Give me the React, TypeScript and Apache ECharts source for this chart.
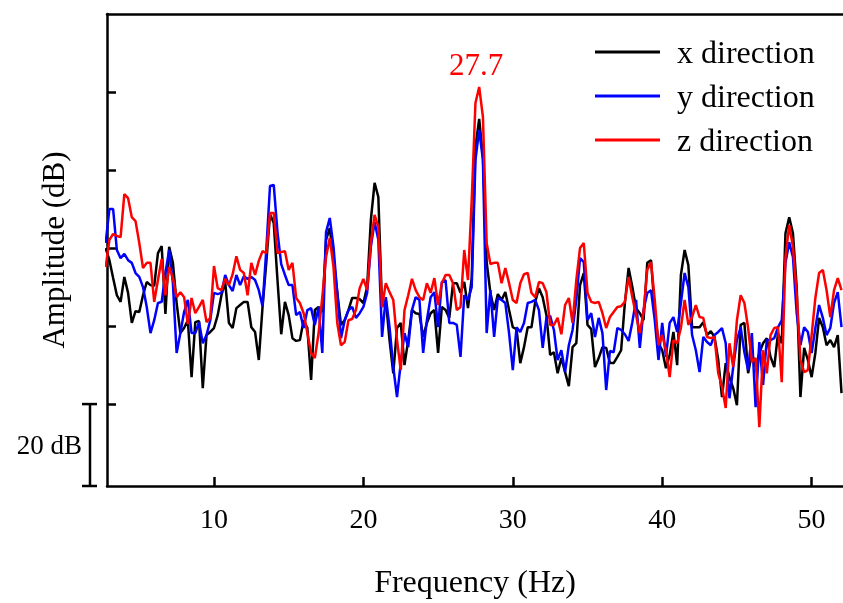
import React, { useEffect, useRef } from "react";
import * as echarts from "echarts";

// Frequency grid of the spectra (Hz)
const F_START = 2.75;
const F_STEP = 0.25;

// Amplitude (dB) per direction, one value per frequency bin
const xDirection = [
  -60.0, -63.1, -67.7, -72.1, -73.8, -67.4, -71.5, -79.2, -76.2, -76.4,
  -72.1, -68.7, -69.5, -69.7, -61.3, -59.5, -76.9, -59.7, -63.8, -74.1,
  -81.8, -80.5, -78.5, -93.1, -79.0, -78.7, -95.9, -82.3, -81.5, -80.5,
  -77.2, -72.1, -68.7, -79.2, -80.5, -75.4, -74.6, -73.8, -73.8, -80.3,
  -81.5, -88.7, -75.1, -63.8, -51.3, -53.6, -68.2, -82.1, -73.8, -77.2,
  -83.1, -83.8, -83.6, -78.5, -80.5, -93.8, -75.9, -75.1, -76.4, -57.9,
  -54.9, -62.6, -71.3, -79.7, -78.5, -75.9, -72.8, -72.8, -73.1, -74.1,
  -70.0, -52.8, -43.3, -46.9, -75.1, -73.3, -83.6, -92.1, -80.5, -79.2,
  -90.0, -83.6, -75.9, -76.7, -76.9, -82.8, -79.2, -76.7, -75.9, -86.9,
  -75.1, -75.9, -77.9, -69.0, -69.0, -71.5, -68.7, -75.4, -67.7, -34.1,
  -26.9, -36.7, -63.6, -71.5, -75.9, -71.8, -73.3, -71.3, -75.9, -80.3,
  -80.8, -89.5, -85.4, -80.3, -80.3, -73.8, -70.3, -72.6, -77.2, -87.4,
  -86.7, -92.1, -88.2, -91.8, -95.4, -85.4, -84.4, -69.5, -66.4, -79.7,
  -80.8, -90.5, -88.2, -85.4, -85.6, -89.5, -89.5, -87.9, -86.2, -74.1,
  -65.1, -70.0, -75.4, -76.7, -78.5, -63.8, -63.1, -75.9, -84.4, -86.2,
  -90.8, -87.4, -81.5, -90.0, -66.9, -60.5, -64.4, -80.3, -80.3, -80.3,
  -79.0, -82.3, -81.3, -82.8, -88.7, -98.2, -89.5, -93.1, -95.9, -100.3,
  -79.7, -79.2, -92.1, -86.9, -90.5, -86.9, -84.4, -83.1, -87.9, -90.5,
  -81.8, -84.4, -56.2, -52.1, -56.2, -70.0, -98.2, -85.6, -88.7, -93.1,
  -86.9, -77.9, -80.3, -84.9, -83.6, -85.4, -82.3, -97.2,
];

const yDirection = [
  -58.7, -50.0, -50.0, -60.5, -62.6, -61.5, -63.1, -63.8, -66.4, -67.4,
  -70.0, -75.1, -81.8, -78.5, -74.1, -73.8, -66.4, -60.5, -69.0, -86.9,
  -81.8, -76.4, -73.3, -81.8, -81.8, -79.0, -84.4, -82.3, -78.5, -71.5,
  -71.8, -71.5, -66.9, -69.5, -71.0, -66.9, -69.5, -67.2, -67.9, -67.4,
  -68.2, -70.8, -74.9, -60.5, -44.1, -43.8, -55.9, -64.1, -66.9, -69.5,
  -69.5, -77.2, -76.4, -80.5, -75.9, -75.4, -79.7, -75.1, -86.9, -55.9,
  -52.3, -59.7, -71.5, -83.1, -78.5, -75.9, -75.1, -77.9, -76.7, -75.1,
  -71.5, -59.7, -53.3, -57.9, -82.8, -72.6, -80.3, -90.5, -98.2, -89.5,
  -81.8, -85.4, -75.9, -72.6, -73.3, -86.9, -78.5, -72.6, -71.3, -80.3,
  -68.7, -68.2, -79.2, -79.2, -79.7, -87.9, -72.1, -73.3, -70.0, -37.4,
  -29.7, -37.4, -81.8, -70.8, -82.8, -72.8, -73.3, -74.1, -81.8, -91.3,
  -80.3, -81.5, -79.2, -74.1, -73.8, -73.3, -75.9, -85.6, -77.9, -77.4,
  -81.0, -88.7, -86.2, -91.8, -84.9, -81.0, -73.3, -62.6, -63.6, -78.5,
  -76.7, -82.8, -77.9, -81.8, -96.4, -86.4, -86.7, -80.5, -81.0, -82.1,
  -83.8, -79.0, -73.3, -85.6, -75.9, -71.5, -70.8, -78.5, -88.7, -79.2,
  -87.9, -79.2, -77.7, -81.5, -74.1, -66.4, -70.0, -82.3, -86.2, -91.8,
  -82.8, -84.1, -84.9, -82.3, -81.5, -80.5, -84.4, -98.5, -90.5, -83.6,
  -80.3, -86.7, -91.3, -81.8, -100.8, -84.1, -95.1, -83.6, -83.6, -83.1,
  -80.3, -78.5, -63.8, -58.5, -62.3, -76.7, -84.9, -80.3, -81.5, -86.9,
  -80.5, -74.6, -77.9, -82.3, -80.5, -74.1, -71.3, -80.3,
];

const zDirection = [
  -64.9, -57.9, -56.4, -56.9, -57.2, -46.2, -47.2, -52.1, -53.1, -58.7,
  -65.1, -63.8, -63.8, -73.8, -68.2, -62.8, -72.1, -64.9, -67.7, -72.6,
  -71.3, -72.6, -79.5, -72.8, -76.7, -75.1, -73.3, -79.0, -77.9, -64.6,
  -70.3, -70.8, -67.9, -69.5, -66.7, -62.1, -65.6, -66.4, -72.1, -63.8,
  -66.9, -63.3, -60.8, -61.3, -51.0, -51.0, -61.3, -61.0, -60.8, -65.6,
  -63.8, -72.8, -74.1, -76.7, -81.8, -86.9, -88.2, -81.8, -72.6, -62.3,
  -57.4, -64.9, -79.2, -84.9, -84.1, -78.5, -78.2, -75.9, -70.3, -67.9,
  -70.8, -58.7, -51.5, -54.6, -75.1, -69.0, -71.3, -73.3, -83.6, -91.3,
  -75.9, -72.1, -67.9, -70.8, -72.6, -73.3, -69.0, -71.5, -67.7, -74.6,
  -69.0, -66.9, -66.9, -69.0, -75.9, -75.1, -60.5, -68.2, -47.7, -22.8,
  -18.7, -26.4, -58.7, -64.1, -63.8, -63.8, -69.0, -65.1, -69.0, -73.3,
  -74.1, -69.0, -66.7, -66.4, -71.5, -72.6, -68.7, -69.0, -71.3, -79.7,
  -79.7, -77.9, -82.1, -74.6, -72.8, -79.2, -68.2, -60.0, -58.7, -71.5,
  -73.8, -74.1, -73.8, -76.7, -80.5, -77.7, -76.4, -75.1, -74.9, -73.8,
  -67.4, -72.6, -77.2, -81.8, -76.4, -65.6, -63.6, -73.3, -84.9, -82.3,
  -86.2, -93.1, -83.6, -84.4, -80.5, -73.3, -79.7, -77.7, -74.6, -77.7,
  -77.9, -82.8, -83.1, -82.8, -92.1, -95.6, -101.0, -84.4, -90.5, -78.5,
  -72.1, -74.1, -80.5, -89.2, -88.2, -105.9, -86.2, -92.1, -82.3, -80.5,
  -80.3, -94.4, -62.3, -54.1, -59.7, -71.5, -88.7, -91.8, -91.3, -82.3,
  -72.8, -66.4, -65.6, -70.8, -77.7, -70.8, -67.7, -70.8,
];

const seriesNames = ["x direction", "y direction", "z direction"];
const seriesColors = ["#000000", "#0000ff", "#ff0000"];
const xTickValues = [10, 20, 30, 40, 50];
const yTickValues = [-100, -80, -60, -40, -20];
const X_MIN = 2.84;
const X_MAX = 52.1;
const Y_MIN = -121;
const Y_MAX = 0;
const peakLabel = "27.7";
const scaleBarLabel = "20 dB";
const scaleBarTop = -100;

const FONT = '"Liberation Serif", "Times New Roman", serif';

export default function App() {
  const ref = useRef<HTMLDivElement>(null);

  useEffect(() => {
    if (!ref.current) return;
    const chart = echarts.init(ref.current, null, { renderer: "svg" });
    const toPairs = (arr: number[]) => arr.map((v, i) => [F_START + F_STEP * i, v]);

    let peakIdx = 0;
    zDirection.forEach((v, i) => {
      if (v > zDirection[peakIdx]) peakIdx = i;
    });

    const axisLineStyle = { color: "#000", width: 2.5 };
    const allData = [xDirection, yDirection, zDirection];

    const option: any = {
      animation: false,
      grid: { left: 107, top: 14, right: 0, bottom: 117, containLabel: false, outerBoundsMode: "none" },
      legend: {
        orient: "vertical",
        left: 590,
        top: 31,
        icon: "rect",
        itemWidth: 65,
        itemHeight: 3,
        itemGap: 12,
        textStyle: { fontFamily: FONT, fontSize: 32, color: "#000", padding: [0, 0, 0, 12] },
        data: seriesNames,
      },
      xAxis: [
        {
          type: "value",
          min: X_MIN,
          max: X_MAX,
          name: "Frequency (Hz)",
          nameLocation: "middle",
          nameGap: 79,
          nameTextStyle: { fontFamily: FONT, fontSize: 32, color: "#000" },
          axisLine: { onZero: false, lineStyle: axisLineStyle },
          axisTick: { inside: true, length: 9, customValues: xTickValues, lineStyle: axisLineStyle },
          axisLabel: { customValues: xTickValues, margin: 18, fontFamily: FONT, fontSize: 28, color: "#000" },
          splitLine: { show: false },
        },
        {
          type: "value",
          position: "top",
          min: X_MIN,
          max: X_MAX,
          axisLine: { onZero: false, lineStyle: axisLineStyle },
          axisTick: { show: false },
          axisLabel: { show: false },
          splitLine: { show: false },
        },
      ],
      yAxis: {
        type: "value",
        min: Y_MIN,
        max: Y_MAX,
        name: "Amplitude (dB)",
        nameLocation: "middle",
        nameGap: 38,
        nameTextStyle: { fontFamily: FONT, fontSize: 31, color: "#000" },
        axisLine: { show: true, onZero: false, lineStyle: axisLineStyle },
        axisTick: { show: true, inside: true, length: 9, customValues: yTickValues, lineStyle: axisLineStyle },
        axisLabel: { show: false },
        splitLine: { show: false },
      },
      series: seriesNames.map((name, k) => ({
        name,
        type: "line",
        xAxisIndex: 0,
        symbol: "none",
        showSymbol: false,
        color: seriesColors[k],
        lineStyle: { color: seriesColors[k], width: 2.5 },
        data: toPairs(allData[k]),
        markPoint:
          k === 2
            ? {
                symbol: "circle",
                symbolSize: 1,
                itemStyle: { color: "transparent" },
                data: [{ coord: [F_START + F_STEP * peakIdx, zDirection[peakIdx]] }],
                label: {
                  show: true,
                  position: "top",
                  distance: 6,
                  offset: [-3, 0],
                  formatter: peakLabel,
                  color: "#ff0000",
                  fontFamily: FONT,
                  fontSize: 31,
                },
              }
            : undefined,
      })),
    };
    chart.setOption(option);

    const yTop = chart.convertToPixel({ yAxisIndex: 0 }, scaleBarTop) as number;
    const yBot = chart.convertToPixel({ yAxisIndex: 0 }, Y_MIN) as number;
    const barX = 90;
    const barStyle = { stroke: "#000", lineWidth: 2.5 };
    chart.setOption({
      graphic: [
        { type: "line", shape: { x1: barX, y1: yTop, x2: barX, y2: yBot }, style: barStyle },
        { type: "line", shape: { x1: barX - 8, y1: yTop, x2: barX + 7, y2: yTop }, style: barStyle },
        { type: "line", shape: { x1: barX - 8, y1: yBot, x2: barX + 7, y2: yBot }, style: barStyle },
        {
          type: "text",
          x: barX - 8,
          y: (yTop + yBot) / 2,
          style: {
            text: scaleBarLabel,
            fill: "#000",
            font: `27px ${FONT}`,
            align: "right",
            verticalAlign: "middle",
          },
        },
      ],
    });

    return () => chart.dispose();
  }, []);

  return (
    <div
      ref={ref}
      style={{ position: "fixed", left: 0, top: 0, width: 843, height: 603 }}
    />
  );
}
